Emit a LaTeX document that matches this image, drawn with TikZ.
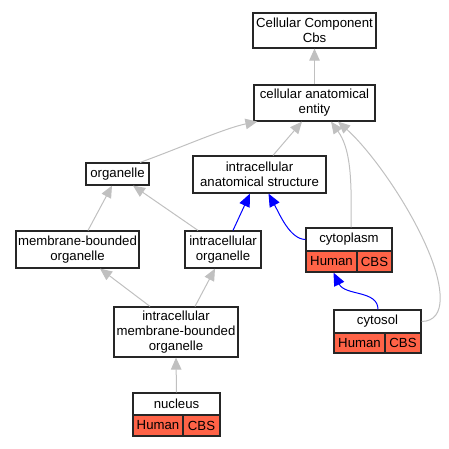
\documentclass[tikz,border=0pt]{standalone}
\usepackage{fontspec}
\setmainfont{Liberation Sans}
\usetikzlibrary{arrows.meta,calc}
\definecolor{edgegray}{RGB}{192,192,192}
\definecolor{tomatored}{RGB}{255,99,71}
\tikzset{
  box/.style={draw=black!85, line width=1.2pt, fill=white, inner sep=0pt, align=center, font=\fontsize{13.2}{15}\selectfont},
  cell/.style={box, fill=tomatored},
  isa/.style={draw=edgegray, line width=1pt, -{Triangle[length=12pt,width=10.5pt,fill=edgegray]}},
  partof/.style={draw=blue, line width=1pt, -{Triangle[length=13pt,width=11pt,fill=blue]}}
}
\begin{document}
\begin{tikzpicture}[x=1pt,y=-1pt]
\useasboundingbox (0,0) rectangle (449,448);
\node[box, minimum width=123pt, minimum height=35pt] (ccc) at (314.5,30.5) {Cellular Component\\Cbs};
\node[box, minimum width=121pt, minimum height=36pt] (cae) at (314.5,103) {cellular anatomical\\entity};
\node[box, minimum width=63pt, minimum height=22pt] (org) at (117.5,174) {organelle};
\node[box, minimum width=133pt, minimum height=37pt] (ias) at (259.5,174.5) {intracellular\\anatomical structure};
\node[box, minimum width=123pt, minimum height=37pt] (mbo) at (77.5,249.5) {membrane-bounded\\organelle};
\node[box, minimum width=76pt, minimum height=37pt] (io) at (223,249.5) {intracellular\\organelle};
\node[box, minimum width=124pt, minimum height=50pt] (imbo) at (176,332) {intracellular\\membrane-bounded\\organelle};
% cytoplasm
\node[box, minimum width=86pt, minimum height=23pt] (cyto) at (349,239.5) {cytoplasm};
\node[cell, minimum width=51pt, minimum height=21pt] (cytoH) at (331.5,261.5) {Human};
\node[cell, minimum width=35pt, minimum height=21pt] (cytoC) at (374.5,261.5) {CBS};
% cytosol
\node[box, minimum width=87pt, minimum height=23pt] (csol) at (377.5,321.5) {cytosol};
\node[cell, minimum width=51pt, minimum height=20pt] (csolH) at (359.5,343) {Human};
\node[cell, minimum width=36pt, minimum height=20pt] (csolC) at (403,343) {CBS};
% nucleus
\node[box, minimum width=87pt, minimum height=22pt] (nuc) at (176.5,404) {nucleus};
\node[cell, minimum width=50pt, minimum height=21pt] (nucH) at (158,425.5) {Human};
\node[cell, minimum width=37pt, minimum height=21pt] (nucC) at (201.5,425.5) {CBS};
% gray is_a edges
\draw[isa] (cae.north) -- (ccc.south);
\draw[isa] ($(org.north)+(22.5,0)$) .. controls (175,150) and (225,128) .. ($(cae.south west)+(4,0)$);
\draw[isa] ($(ias.north)+(13.5,0)$) -- ($(cae.south)+(-12.5,0)$);
\draw[isa] ($(cyto.north)+(2,0)$) .. controls (352,175) and (350,148) .. ($(cae.south)+(16.5,0)$);
\draw[isa] (csol.east) .. controls (448,321) and (442,285) .. (430,255) .. controls (410,205) and (370,150) .. ($(cae.south)+(23.5,0)$);
\draw[isa] ($(mbo.north)+(10.5,0)$) -- ($(org.south)+(-5.5,0)$);
\draw[isa] ($(io.north)+(-25,0)$) -- ($(org.south)+(15.5,0)$);
\draw[isa] ($(imbo.north)+(-26,0)$) -- ($(mbo.south)+(22.5,0)$);
\draw[isa] ($(imbo.north)+(19,0)$) -- ($(io.south)+(-8,0)$);
\draw[isa] (nuc.north) -- (imbo.south);
% blue part_of edges
\draw[partof] ($(io.north)+(10,0)$) -- ($(ias.south)+(-9.5,0)$);
\draw[partof] (cyto.west) .. controls (290,239) and (280,215) .. ($(ias.south)+(9,0)$);
\draw[partof] ($(csol.north)+(0.5,0)$) .. controls (378,290) and (345,296) .. ($(cytoH.south)+(2,0)$);
\end{tikzpicture}
\end{document}
